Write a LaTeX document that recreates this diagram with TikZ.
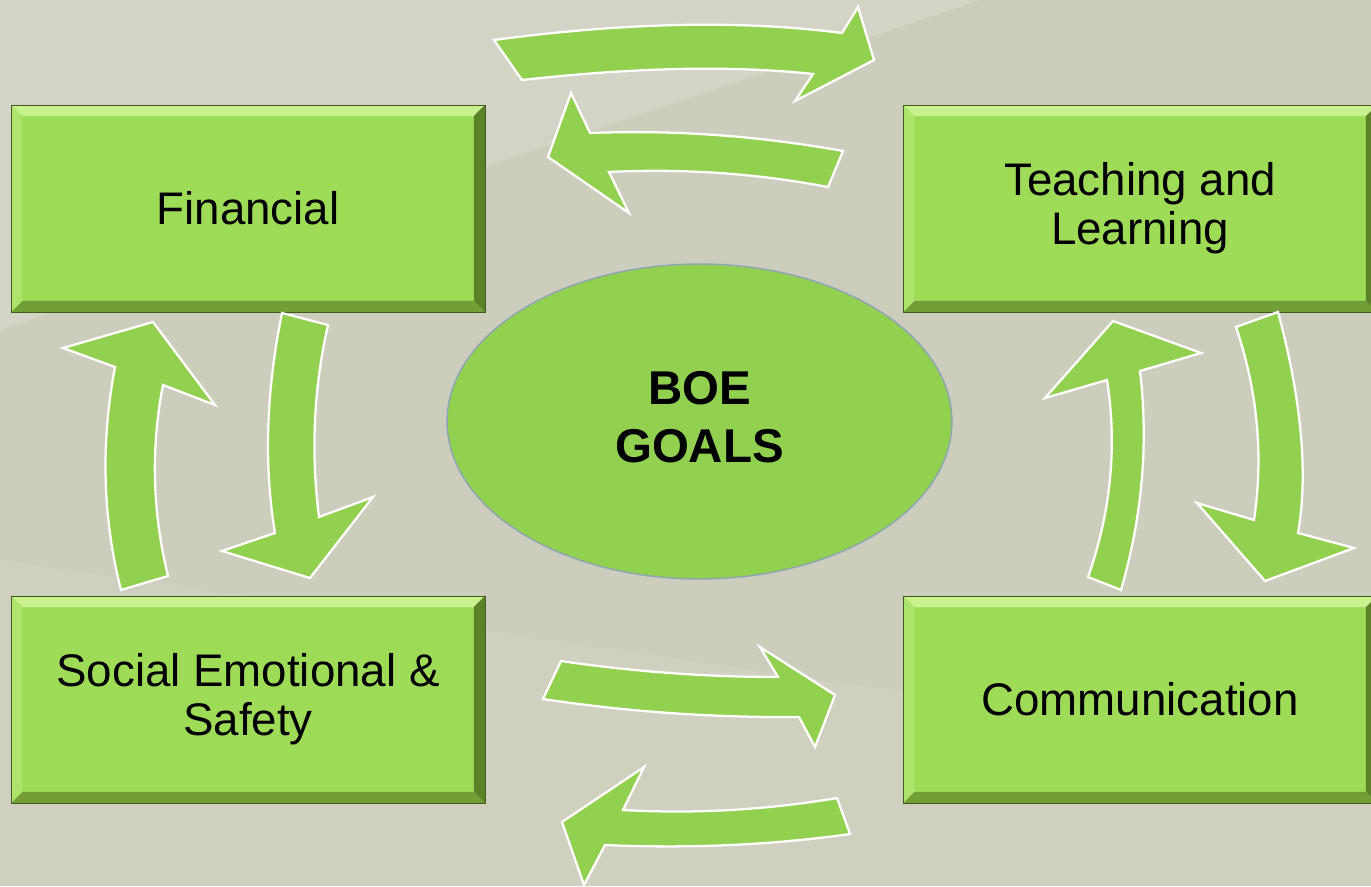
\documentclass[tikz,border=0pt]{standalone}
\usepackage{fontspec}
\setmainfont{Liberation Sans}
\usetikzlibrary{shapes.geometric,calc}
\definecolor{bgbase}{HTML}{CDCDBD}
\definecolor{boxgreen}{HTML}{9EDC58}
\definecolor{bevlight}{HTML}{C8F28E}
\definecolor{bevside}{HTML}{AEE46C}
\definecolor{bevdark}{HTML}{5C8228}
\definecolor{bevlow}{HTML}{729E38}
\definecolor{arrowgreen}{HTML}{92D050}
\definecolor{coreline}{HTML}{8EA3B3}
\def\bevw{0.22cm}
\tikzset{
goalbox/.style={
  rectangle,
  fill=boxgreen,
  draw=bevdark!70!black,
  line width=0.5pt,
  minimum width=9.48cm,
  minimum height=4.14cm,
  inner sep=0pt,
  align=center,
  font=\fontsize{26}{28}\selectfont,
  path picture={
    \coordinate (bnw) at (path picture bounding box.north west);
    \coordinate (bne) at (path picture bounding box.north east);
    \coordinate (bse) at (path picture bounding box.south east);
    \coordinate (bsw) at (path picture bounding box.south west);
    \fill[bevlight] (bnw) -- (bne) -- ($(bne)+(-\bevw,-\bevw)$) -- ($(bnw)+(\bevw,-\bevw)$) -- cycle;
    \fill[bevdark]  (bne) -- (bse) -- ($(bse)+(-\bevw,\bevw)$) -- ($(bne)+(-\bevw,-\bevw)$) -- cycle;
    \fill[bevlow]   (bse) -- (bsw) -- ($(bsw)+(\bevw,\bevw)$) -- ($(bse)+(-\bevw,\bevw)$) -- cycle;
    \fill[bevside]  (bsw) -- (bnw) -- ($(bnw)+(\bevw,-\bevw)$) -- ($(bsw)+(\bevw,\bevw)$) -- cycle;
  }
  },
goalcore/.style={
  ellipse,
  fill=arrowgreen,
  draw=coreline,
  line width=0.8pt,
  minimum width=10.1cm,
  minimum height=6.3cm,
  inner sep=0pt,
  text depth=0.2cm,
  align=center,
  font=\bfseries\fontsize{27}{33}\selectfont
  },
goalarrow/.style={
  fill=arrowgreen,
  draw=white,
  line width=1.3pt,
  line join=miter
  }
}

\begin{document}
\begin{tikzpicture}[x=0.02cm, y=-0.02cm]
  \useasboundingbox (0,0) rectangle (1371,886);
  \fill[bgbase] (0,0) rectangle (1371,886);
  \fill[white, opacity=0.14] (0,0) -- (980,0) -- (0,330) -- cycle;
  \fill[white, opacity=0.07] (0,886) -- (0,560) -- (1371,760) -- (1371,886) -- cycle;

  \node[goalbox] (fin)    at (248,208.5)  {Financial};
  \node[goalbox] (teach)  at (1140,208.5) {Teaching and\\Learning};
  \node[goalbox] (social) at (248,699.5)  {Social Emotional \&\\Safety};
  \node[goalbox] (comm)   at (1140,699.5) {Communication};
  \node[goalcore] (core)  at (699.5,421.5) {BOE\\GOALS};

  % top pair
  \draw[goalarrow] (522,80) .. controls (635.7,67.3) and (732.7,65.3) .. (813,74) -- (795,101) -- (874,60) -- (858,7) -- (842,33) .. controls (742,20) and (626,22.3) .. (494,40) -- cycle;
  \draw[goalarrow] (548,157) -- (571,93) -- (590,133) .. controls (673.7,129.7) and (758,135.7) .. (843,151) -- (828,187) .. controls (755.7,173.3) and (682.7,168.3) .. (609,172) -- (629,213) -- cycle;

  % bottom pair
  \draw[goalarrow] (561,661) .. controls (634,671.7) and (706.3,677) .. (778,677) -- (760,647) -- (835,695) -- (815,747) -- (799,717) .. controls (712.3,717.7) and (627,711.7) .. (543,699) -- cycle;
  \draw[goalarrow] (562,822) -- (644,767) -- (623,810) .. controls (694.3,814) and (765.7,810) .. (837,798) -- (850,834) .. controls (771.7,845) and (690,848.7) .. (605,845) -- (584,885) -- cycle;

  % left pair
  \draw[goalarrow] (153,322) -- (215,405) -- (163,385) .. controls (150.7,448) and (152.3,511.7) .. (168,576) -- (121,590) .. controls (102.6,517.7) and (100.6,443.3) .. (115,367) -- (63,348) -- cycle;
  \draw[goalarrow] (328,325) .. controls (313.7,387.7) and (310.7,451.7) .. (319,517) -- (373,497) -- (310,578) -- (222,551) -- (275,533) .. controls (263.7,464.6) and (266.1,391.3) .. (282,313) -- cycle;

  % right pair
  \draw[goalarrow] (1113,321) -- (1201,353) -- (1140,371) .. controls (1148.6,443.3) and (1142.3,516.3) .. (1121,590) -- (1088,577) .. controls (1111,511.6) and (1117.3,445.9) .. (1107,380) -- (1045,398) -- cycle;
  \draw[goalarrow] (1278,312) .. controls (1301.6,400.1) and (1308.3,473.7) .. (1298,533) -- (1354,548) -- (1265,581) -- (1197,503) -- (1254,520) .. controls (1263.6,455.4) and (1257.6,391.1) .. (1236,327) -- cycle;
\end{tikzpicture}
\end{document}
